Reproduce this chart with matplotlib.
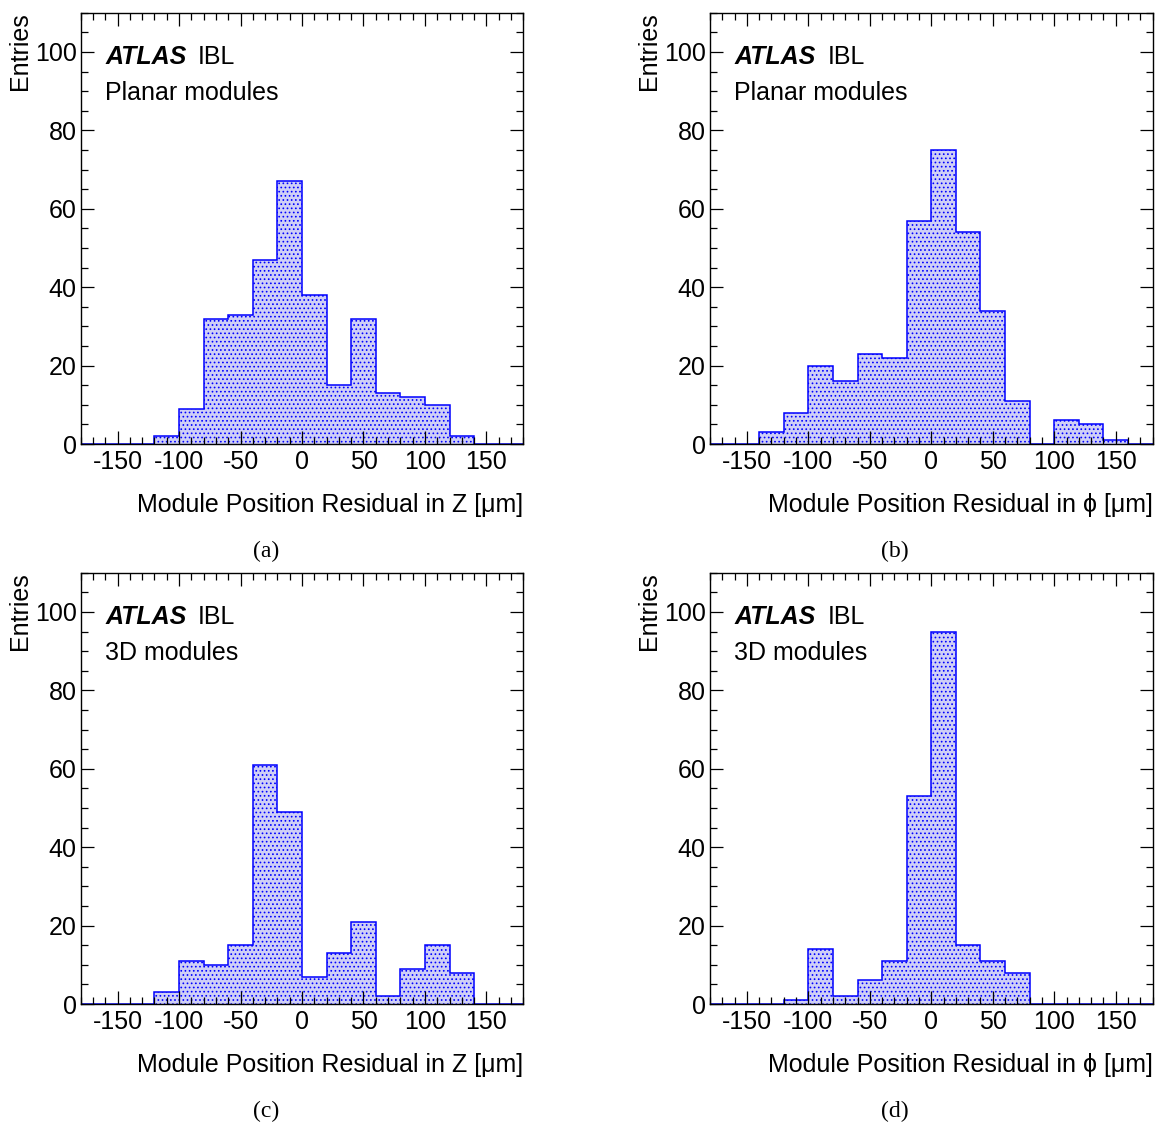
import numpy as np
import matplotlib
matplotlib.use('Agg')
import matplotlib.pyplot as plt
from matplotlib.ticker import MultipleLocator

plt.rcParams['font.family'] = ['Liberation Sans', 'DejaVu Sans']
plt.rcParams['hatch.linewidth'] = 0.7
plt.rcParams['axes.unicode_minus'] = False

# bin edges in um (20 um bins from -180 to 180)
edges = np.arange(-180, 181, 20)

# entries per bin, left to right
planar_z = [0, 0, 0, 2, 9, 32, 33, 47, 67, 38, 15, 32, 13, 12, 10, 2, 0, 0]
planar_phi = [0, 0, 3, 8, 20, 16, 23, 22, 57, 75, 54, 34, 11, 0, 6, 5, 1, 0]
threed_z = [0, 0, 0, 3, 11, 10, 15, 61, 49, 7, 13, 21, 2, 9, 15, 8, 0, 0]
threed_phi = [0, 0, 0, 1, 14, 2, 6, 11, 53, 95, 15, 11, 8, 0, 0, 0, 0, 0]

panels = [
    (planar_z, 'Planar modules', 'Module Position Residual in Z [\u03bcm]', '(a)'),
    (planar_phi, 'Planar modules', 'Module Position Residual in \u03d5 [\u03bcm]', '(b)'),
    (threed_z, '3D modules', 'Module Position Residual in Z [\u03bcm]', '(c)'),
    (threed_phi, '3D modules', 'Module Position Residual in \u03d5 [\u03bcm]', '(d)'),
]

W, H = 1156, 1122
fig = plt.figure(figsize=(W / 100, H / 100), dpi=100)

# axes boxes in pixels: left, top
boxes = [(80.7, 12.7), (710.0, 12.7), (80.7, 572.7), (710.0, 572.7)]
aw, ah = 442.6, 431.3

for (vals, sub, xlab, tag), (lx, ty) in zip(panels, boxes):
    ax = fig.add_axes([lx / W, 1 - (ty + ah) / H, aw / W, ah / H])
    ax.stairs(vals, edges, fill=True, facecolor='#cfcff6', edgecolor='blue',
              hatch='....', linewidth=0)
    ax.stairs(vals, edges, color='blue', linewidth=1.1)

    ax.set_xlim(-180, 180)
    ax.set_ylim(0, 110)
    ax.xaxis.set_major_locator(MultipleLocator(50))
    ax.xaxis.set_minor_locator(MultipleLocator(10))
    ax.yaxis.set_major_locator(MultipleLocator(20))
    ax.yaxis.set_minor_locator(MultipleLocator(5))
    ax.tick_params(which='both', direction='in', top=True, right=True,
                   width=0.9, labelsize=18)
    ax.tick_params(which='major', length=9.4)
    ax.tick_params(which='minor', length=5)
    ax.tick_params(axis='x', pad=4)
    ax.tick_params(axis='y', pad=3)
    for s in ax.spines.values():
        s.set_linewidth(1.0)

    ax.text(1.0, -0.158, xlab, transform=ax.transAxes, ha='right',
            va='baseline', fontsize=18)
    ax.text(-0.137, 1.0, 'Entries', transform=ax.transAxes, rotation=90,
            ha='center', va='top', fontsize=18)

    ax.text(0.055, 0.881, 'ATLAS', transform=ax.transAxes, fontsize=18,
            fontweight='bold', fontstyle='italic', va='baseline')
    ax.text(0.265, 0.881, 'IBL', transform=ax.transAxes, fontsize=18,
            va='baseline')
    ax.text(0.055, 0.798, sub, transform=ax.transAxes, fontsize=18,
            va='baseline')

    fig.text((lx + 185) / W, 1 - (ty + ah + 107) / H, tag,
             family='Liberation Serif', fontsize=17, ha='center', va='center')

fig.savefig('out.png', dpi=100)
